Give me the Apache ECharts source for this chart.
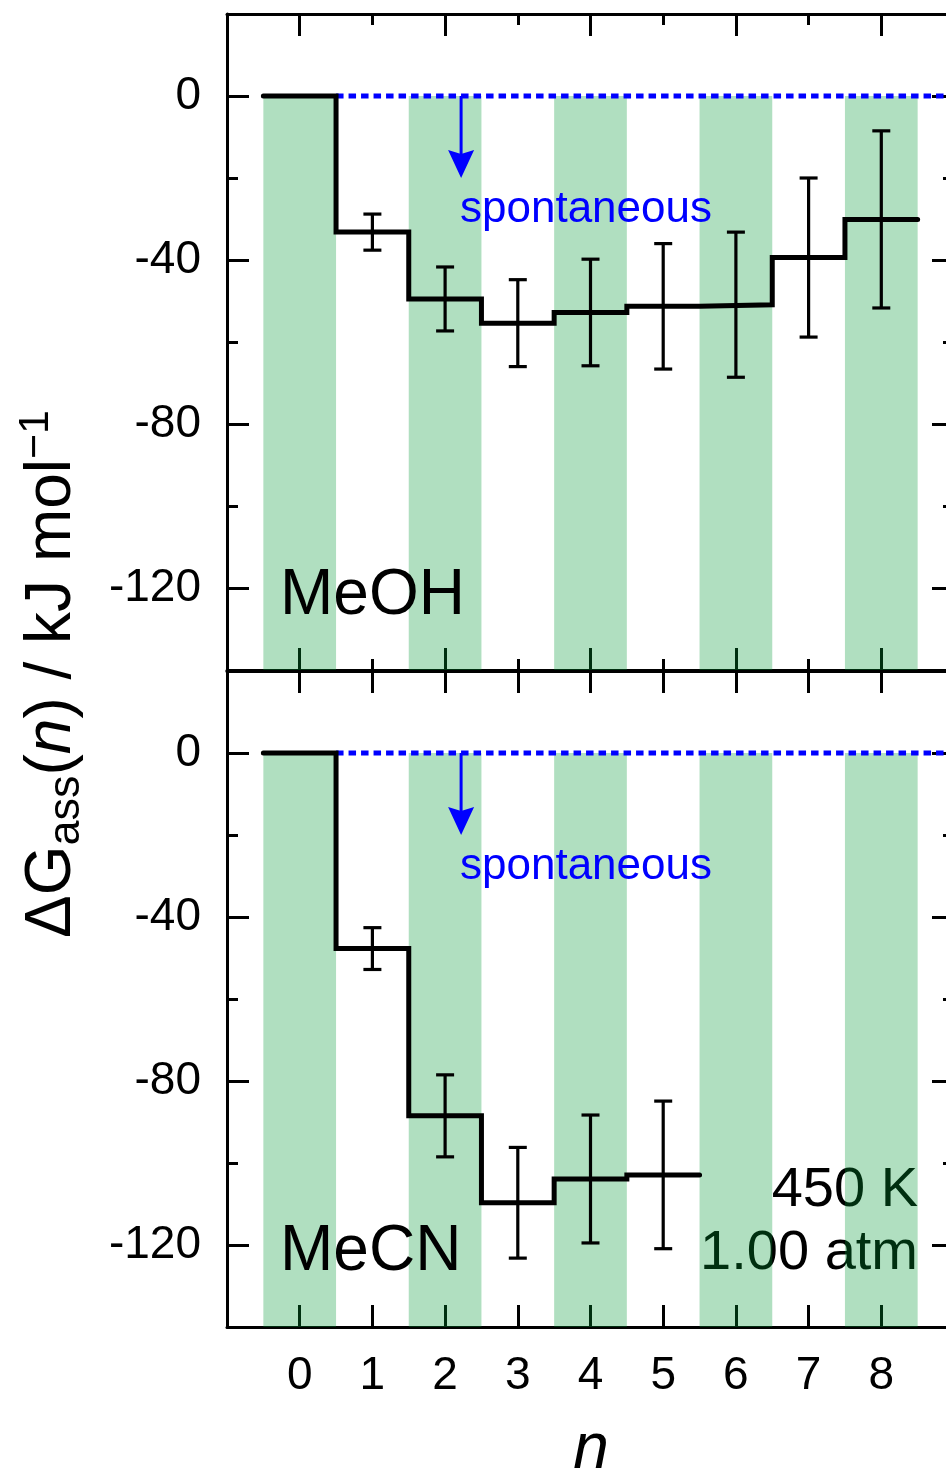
<!DOCTYPE html>
<html>
<head>
<meta charset="utf-8">
<script src="https://cdn.jsdelivr.net/npm/echarts@6/dist/echarts.min.js"></script>
<style>
  html, body { margin: 0; padding: 0; background: #fff; overflow: hidden; }
  #chart { width: 962px; height: 1472px; }
</style>
</head>
<body>
<div id="chart"></div>
<script>
// Association free energy per cluster size n (kJ/mol), with ± uncertainty
const meohN   = [0, 1, 2, 3, 4, 5, 6, 7, 8];
const meohG   = [0, -33.2, -49.5, -55.4, -52.8, -51.3, -50.9, -39.4, -30.1];
const meohErr = [0, 4.4, 7.8, 10.6, 13.0, 15.3, 17.7, 19.4, 21.6];

const mecnN   = [0, 1, 2, 3, 4, 5];
const mecnG   = [0, -47.7, -88.5, -109.7, -103.9, -102.9];
const mecnErr = [0, 5.1, 10.0, 13.5, 15.6, 18.0];

// Shaded columns and axis ticks
const shadedN      = [0, 2, 4, 6, 8];
const xTickLabels  = [0, 1, 2, 3, 4, 5, 6, 7, 8];
const xMajorTop    = [0, 2, 4, 6, 8];
const yMajorTicks  = [0, -40, -80, -120];

// "spontaneous" arrow: x position, start and end of the arrow (kJ/mol)
const arrowX = 2.22, arrowFrom = 0, arrowTo = -20;

const FONT = '"Liberation Sans", Arial, Helvetica, sans-serif';
const X_MIN = -1, X_MAX = 9, Y_MIN = -140, Y_MAX = 20;

function stepPoints(ns, gs) {
  const pts = [];
  ns.forEach((n, i) => { pts.push([n - 0.5, gs[i]]); pts.push([n + 0.5, gs[i]]); });
  return pts;
}
function errData(ns, gs, es) {
  return ns.map((n, i) => [n, gs[i], es[i]]).filter(d => d[2] > 0);
}

const lineSty = { color: '#000', width: 3 };

function xAx(grid, pos, opts) {
  return Object.assign({
    type: 'value', gridIndex: grid, position: pos, min: X_MIN, max: X_MAX, interval: 1,
    axisLine: { show: true, onZero: false, lineStyle: lineSty },
    axisTick: { show: true, inside: true, length: 11, lineStyle: lineSty },
    axisLabel: { show: false },
    splitLine: { show: false }
  }, opts || {});
}
function yAx(grid, pos, opts) {
  return Object.assign({
    type: 'value', gridIndex: grid, position: pos, min: Y_MIN, max: Y_MAX, interval: 20,
    axisLine: { show: true, onZero: false, lineStyle: lineSty },
    axisTick: { show: true, inside: true, length: 11, lineStyle: lineSty },
    axisLabel: { show: false },
    splitLine: { show: false }
  }, opts || {});
}
const majorTickY = { show: true, inside: true, length: 22, customValues: yMajorTicks, lineStyle: lineSty };
const yLabels = {
  show: true, customValues: yMajorTicks, margin: 26,
  fontSize: 46, color: '#000', fontFamily: FONT
};

const xAxes = [
  // upper panel
  xAx(0, 'bottom'),
  xAx(0, 'bottom', { axisLine: { show: false, onZero: false },
    axisTick: { show: true, inside: true, length: 22, customValues: xMajorTop, lineStyle: lineSty } }),
  xAx(0, 'top'),
  xAx(0, 'top', { axisLine: { show: false, onZero: false },
    axisTick: { show: true, inside: true, length: 22, customValues: xMajorTop, lineStyle: lineSty } }),
  // lower panel
  xAx(1, 'bottom', {
    axisTick: { show: true, inside: true, length: 22, lineStyle: lineSty },
    axisLabel: { show: true, customValues: xTickLabels, margin: 26, fontSize: 46, color: '#000', fontFamily: FONT }
  }),
  xAx(1, 'top', { axisTick: { show: true, inside: true, length: 22, lineStyle: lineSty } })
];

const yAxes = [
  yAx(0, 'left', { axisLabel: yLabels }),
  yAx(0, 'left', { axisLine: { show: false, onZero: false }, axisTick: majorTickY }),
  yAx(0, 'right'),
  yAx(0, 'right', { axisLine: { show: false, onZero: false }, axisTick: majorTickY }),
  yAx(1, 'left', { axisLabel: yLabels }),
  yAx(1, 'left', { axisLine: { show: false, onZero: false }, axisTick: majorTickY }),
  yAx(1, 'right'),
  yAx(1, 'right', { axisLine: { show: false, onZero: false }, axisTick: majorTickY })
];

function bandSeries(xi, yi) {
  return {
    type: 'custom', xAxisIndex: xi, yAxisIndex: yi, z: 1, silent: true,
    data: shadedN.map(n => [n]),
    encode: { x: 0 },
    renderItem: function (params, api) {
      const n = api.value(0);
      const p1 = api.coord([n - 0.5, 0]);
      const p2 = api.coord([n + 0.5, Y_MIN]);
      return { type: 'rect', shape: { x: p1[0], y: p1[1], width: p2[0] - p1[0], height: p2[1] - p1[1] },
               style: { fill: 'rgba(0,152,52,0.31)' } };
    }
  };
}
function zeroLine(xi, yi) {
  return {
    type: 'line', xAxisIndex: xi, yAxisIndex: yi, z: 3, silent: true, showSymbol: false,
    data: [[0.5, 0], [X_MAX, 0]],
    lineStyle: { color: '#0000ff', width: 5, type: [7.5, 5], cap: 'butt' }
  };
}
function arrowSeries(xi, yi) {
  return {
    type: 'custom', xAxisIndex: xi, yAxisIndex: yi, z: 4, silent: true,
    data: [[arrowX, arrowFrom, arrowTo]],
    encode: { x: 0, y: 1 },
    renderItem: function (params, api) {
      const a = api.coord([api.value(0), api.value(1)]);
      const b = api.coord([api.value(0), api.value(2)]);
      const hw = 13, hh = 28, notch = 4;
      return { type: 'group', children: [
        { type: 'line', shape: { x1: a[0], y1: a[1], x2: b[0], y2: b[1] - hh + notch },
          style: { stroke: '#0000ff', lineWidth: 3 } },
        { type: 'polygon', shape: { points: [[b[0], b[1]], [b[0] - hw, b[1] - hh], [b[0], b[1] - hh + notch], [b[0] + hw, b[1] - hh]] },
          style: { fill: '#0000ff' } }
      ]};
    }
  };
}
function stepSeries(xi, yi, ns, gs) {
  return {
    type: 'line', xAxisIndex: xi, yAxisIndex: yi, z: 5, silent: true, showSymbol: false,
    data: stepPoints(ns, gs),
    lineStyle: { color: '#000', width: 5, cap: 'round', join: 'miter' }
  };
}
function errSeries(xi, yi, ns, gs, es) {
  return {
    type: 'custom', xAxisIndex: xi, yAxisIndex: yi, z: 6, silent: true,
    data: errData(ns, gs, es),
    encode: { x: 0, y: 1 },
    renderItem: function (params, api) {
      const x = api.value(0), g = api.value(1), e = api.value(2);
      const t = api.coord([x, g + e]), b = api.coord([x, g - e]);
      const hw = 9;
      const st = { stroke: '#000', lineWidth: 3.2 };
      return { type: 'group', children: [
        { type: 'line', shape: { x1: t[0], y1: t[1], x2: b[0], y2: b[1] }, style: st },
        { type: 'line', shape: { x1: t[0] - hw, y1: t[1], x2: t[0] + hw, y2: t[1] }, style: st },
        { type: 'line', shape: { x1: b[0] - hw, y1: b[1], x2: b[0] + hw, y2: b[1] }, style: st }
      ]};
    }
  };
}

const option = {
  animation: false,
  backgroundColor: '#fff',
  grid: [
    { left: 227, top: 14, width: 727, height: 656, containLabel: false },
    { left: 227, top: 671, width: 727, height: 656, containLabel: false }
  ],
  xAxis: xAxes,
  yAxis: yAxes,
  series: [
    bandSeries(0, 0), zeroLine(0, 0), arrowSeries(0, 0),
    stepSeries(0, 0, meohN, meohG), errSeries(0, 0, meohN, meohG, meohErr),
    bandSeries(4, 4), zeroLine(4, 4), arrowSeries(4, 4),
    stepSeries(4, 4, mecnN, mecnG), errSeries(4, 4, mecnN, mecnG, mecnErr)
  ],
  graphic: [
    { type: 'text', left: 460, top: 188, z: 7, style: { text: 'spontaneous', fill: '#0000ff', font: '44px ' + FONT } },
    { type: 'text', left: 460, top: 845, z: 7, style: { text: 'spontaneous', fill: '#0000ff', font: '44px ' + FONT } },
    { type: 'text', left: 280, top: 564, z: 10, style: { text: 'MeOH', fill: '#000', font: '64px ' + FONT } },
    { type: 'text', left: 280, top: 1220, z: 10, style: { text: 'MeCN', fill: '#000', font: '64px ' + FONT } },
    { type: 'text', x: 918, y: 1191, z: 0, style: { text: '450 K', fill: '#000', font: '56px ' + FONT, textAlign: 'right', textVerticalAlign: 'middle' } },
    { type: 'text', x: 918, y: 1254, z: 0, style: { text: '1.00 atm', fill: '#000', font: '56px ' + FONT, textAlign: 'right', textVerticalAlign: 'middle' } },
    { type: 'text', x: 591, y: 1450, z: 10, style: { text: 'n', fill: '#000', font: 'italic 64px ' + FONT, textAlign: 'center', textVerticalAlign: 'middle' } },
    { type: 'text', x: 52, y: 674, rotation: Math.PI / 2, z: 10,
      style: {
        text: '{m|ΔG}{s|ass}{m|(}{i|n}{m|) / kJ mol}{p|−1}',
        textAlign: 'center', textVerticalAlign: 'middle', fill: '#000',
        rich: {
          m: { fontSize: 64, fontFamily: FONT, lineHeight: 74, fill: '#000' },
          i: { fontSize: 64, fontFamily: FONT, fontStyle: 'italic', lineHeight: 74, fill: '#000' },
          s: { fontSize: 45, fontFamily: FONT, lineHeight: 46, verticalAlign: 'bottom', fill: '#000' },
          p: { fontSize: 43, fontFamily: FONT, lineHeight: 46, verticalAlign: 'top', fill: '#000' }
        }
      } }
  ]
};

const chart = echarts.init(document.getElementById('chart'), null, { renderer: 'canvas' });
chart.setOption(option);
</script>
</body>
</html>
